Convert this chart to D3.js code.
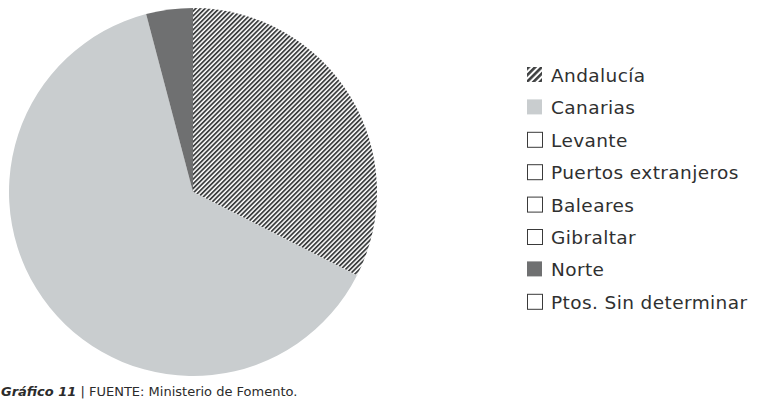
<!DOCTYPE html>
<html>
<head>
<meta charset="utf-8">
<script src="https://cdn.jsdelivr.net/npm/d3@7/dist/d3.min.js"></script>
<style>
  html, body { margin: 0; padding: 0; background: #fff; }
  svg { display: block; }
</style>
</head>
<body>
<svg id="chart" width="760" height="399"></svg>
<script>
// Tráfico por zona de origen (porcentaje)
const categories = ["Andalucía", "Canarias", "Levante", "Puertos extranjeros",
                    "Baleares", "Gibraltar", "Norte", "Ptos. Sin determinar"];
const values     = [32.5, 63.4, 0, 0, 0, 0, 4.1, 0];
const fills      = ["url(#hatch)", "#c9cdcf", "#ffffff", "#ffffff",
                    "#ffffff", "#ffffff", "#6f7071", "#ffffff"];
const caption    = "FUENTE: Ministerio de Fomento.";

const svg = d3.select("#chart");
const defs = svg.append("defs");

// Diagonal hatch for the pie slice
const hatch = defs.append("pattern")
  .attr("id", "hatch").attr("patternUnits", "userSpaceOnUse")
  .attr("width", 3.3).attr("height", 3.3)
  .attr("patternTransform", "rotate(45)");
hatch.append("rect").attr("width", 3.3).attr("height", 3.3).attr("fill", "#fff");
hatch.append("rect").attr("width", 1.8).attr("height", 3.3).attr("fill", "#3d3f40");

// Coarser hatch for the legend swatch
const hatchL = defs.append("pattern")
  .attr("id", "hatchL").attr("patternUnits", "userSpaceOnUse")
  .attr("width", 4.6).attr("height", 4.6)
  .attr("patternTransform", "rotate(45)");
hatchL.append("rect").attr("width", 4.6).attr("height", 4.6).attr("fill", "#fff");
hatchL.append("rect").attr("width", 2.6).attr("height", 4.6).attr("fill", "#3d3f40");

const cx = 193, cy = 192, r = 184;
const data = categories.map((c, i) => ({ name: c, value: values[i], fill: fills[i] }));

const pie = d3.pie().value(d => d.value).sort(null);
const arc = d3.arc().innerRadius(0).outerRadius(r);

svg.append("g").attr("transform", `translate(${cx},${cy})`)
  .selectAll("path")
  .data(pie(data).filter(d => d.data.value > 0))
  .join("path")
  .attr("d", arc)
  .attr("fill", d => d.data.fill);

// Legend
const legend = svg.append("g").attr("transform", "translate(527,67)");
const step = 32.4;
const items = legend.selectAll("g").data(data).join("g")
  .attr("transform", (d, i) => `translate(0,${i * step})`);

items.append("rect")
  .attr("x", d => d.value > 0 ? 0 : 0.5)
  .attr("y", d => d.value > 0 ? 0 : 0.5)
  .attr("width", 15)
  .attr("height", 15)
  .attr("fill", (d, i) => i === 0 ? "url(#hatchL)" : d.fill)
  .attr("stroke", d => d.value > 0 ? "none" : "#3a3a3a")
  .attr("stroke-width", 1);

items.append("text")
  .attr("x", 24).attr("y", 15)
  .attr("font-family", "'DejaVu Sans', sans-serif")
  .attr("font-size", 18.5)
  .attr("letter-spacing", 0.4)
  .attr("fill", "#2f3030")
  .text(d => d.name);

// Figure caption
const cap = svg.append("text")
  .attr("x", 1).attr("y", 396)
  .attr("font-family", "'DejaVu Sans', sans-serif")
  .attr("font-size", 13)
  .attr("fill", "#2b2b2b");
cap.append("tspan").attr("font-weight", "bold").attr("font-style", "italic").text("Gráfico 11");
cap.append("tspan").text(" | " + caption);
</script>
</body>
</html>
